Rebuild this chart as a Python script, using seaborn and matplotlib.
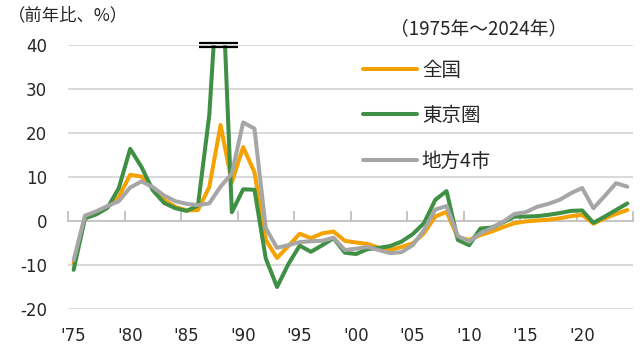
import matplotlib
matplotlib.use("Agg")
import matplotlib.pyplot as plt
import seaborn as sns
import pandas as pd

# year-on-year change of land prices, 1975-2024 (%)
years = list(range(1975, 2025))
zenkoku = [-9.6, 0.8, 1.8, 3.2, 5.5, 10.5, 10.1, 7.5, 4.8, 3.2,
           2.4, 2.5, 7.7, 21.8, 8.8, 16.8, 11.1, -4.3, -8.4, -5.7,
           -2.9, -3.9, -2.8, -2.4, -4.5, -4.9, -5.2, -6.1, -6.6, -5.9,
           -5.1, -2.8, 1.0, 2.1, -3.7, -4.3, -3.2, -2.4, -1.4, -0.5,
           -0.1, 0.1, 0.3, 0.6, 1.1, 1.4, -0.6, 0.6, 1.6, 2.5]
tokyo = [-11.1, 0.6, 1.5, 3.0, 7.5, 16.4, 12.3, 7.0, 4.1, 2.9,
         2.3, 3.5, 24.0, 65.0, 2.0, 7.2, 7.1, -8.5, -15.0, -9.8,
         -5.6, -7.0, -5.5, -3.9, -7.2, -7.5, -6.4, -6.1, -5.7, -4.7,
         -3.0, -0.5, 4.8, 6.8, -4.3, -5.5, -1.7, -1.5, -0.3, 1.0,
         1.0, 1.1, 1.4, 1.8, 2.3, 2.4, -0.4, 1.0, 2.5, 4.0]
chiho = [-8.9, 1.2, 2.2, 3.4, 4.5, 7.6, 9.0, 7.7, 5.8, 4.5,
         3.9, 3.6, 4.0, 7.8, 10.8, 22.4, 21.0, -1.6, -6.1, -5.5,
         -4.8, -4.6, -4.5, -3.8, -6.6, -6.3, -5.9, -6.6, -7.3, -7.1,
         -5.5, -2.1, 2.6, 3.4, -3.4, -4.7, -2.8, -1.6, -0.2, 1.6,
         2.0, 3.2, 3.9, 4.8, 6.3, 7.5, 2.9, 5.7, 8.6, 7.8]
series_names = ["全国", "東京圏", "地方4市"]
colors = ["#F5A200", "#3F8F45", "#A6A6A6"]
tick_years = list(range(1975, 2025, 5))
tick_labels = ["'75", "'80", "'85", "'90", "'95", "'00", "'05", "'10", "'15", "'20"]

df = pd.DataFrame({"year": years * 3,
                   "value": zenkoku + tokyo + chiho,
                   "series": [series_names[0]] * 50 + [series_names[1]] * 50 + [series_names[2]] * 50})

sns.set_style("white")
plt.rcParams["font.family"] = ["DejaVu Sans", "Noto Sans CJK JP"]
plt.rcParams["axes.unicode_minus"] = False
cjk = ["Noto Sans CJK JP", "DejaVu Sans"]
text_color = "#262626"

fig = plt.figure(figsize=(6.44, 3.47), dpi=100)
ax = fig.add_axes([68 / 644, 1 - 309 / 347, (633 - 68) / 644, (309 - 45) / 347])

for y in [-20, -10, 10, 20, 30, 40]:
    ax.axhline(y, color="#D0D0D0", lw=1.1, zorder=0)

sns.lineplot(data=df, x="year", y="value", hue="series", hue_order=series_names,
             palette=colors, lw=2.9, ax=ax, legend=False)

ax.set_xlim(1974.5, 2024.5)
ax.set_ylim(-20, 40)
for s in ax.spines.values():
    s.set_visible(False)

ax.set_yticks(range(-20, 41, 10))
ax.set_xticks(tick_years)
ax.set_xticklabels(tick_labels)
ax.tick_params(axis="y", length=0, pad=15, labelsize=12, labelcolor=text_color)
ax.tick_params(axis="x", length=0, pad=13, labelsize=12, labelcolor=text_color)
ax.set_xlabel("")
ax.set_ylabel("")

# zero line with category-boundary tick marks pointing up
zero = ax.secondary_xaxis(20 / 60)
zero.spines["bottom"].set_color("#BFBFBF")
zero.spines["bottom"].set_linewidth(1.3)
zero.set_xticks([y - 0.5 for y in range(1975, 2026, 5)])
zero.set_xticklabels([])
zero.tick_params(axis="x", direction="in", length=7, width=1.3, color="#BFBFBF")

# break marker where the Tokyo series leaves the chart
for yb in [40.5, 39.5]:
    ax.hlines(yb, 1986.1, 1989.5, color="black", lw=1.6, clip_on=False, zorder=5)

fig.text(0.012, 0.955, "（前年比、%）", family=cjk, fontsize=12.5, color=text_color,
         ha="left", va="center")
fig.text(390 / 644, 1 - 29 / 347, "（1975年～2024年）", family=cjk, fontsize=13.5,
         color=text_color, ha="left", va="center")

handles = [plt.Line2D([], [], color=c, lw=2.9) for c in colors]
leg = fig.legend(handles, series_names, loc="upper left",
                 bbox_to_anchor=(345 / 644, 1 - 42 / 347), frameon=False,
                 handlelength=2.8, handletextpad=0.25, labelspacing=1.26,
                 prop={"family": cjk, "size": 14})
for t in leg.get_texts():
    t.set_color(text_color)

fig.savefig("out.png", dpi=100)
